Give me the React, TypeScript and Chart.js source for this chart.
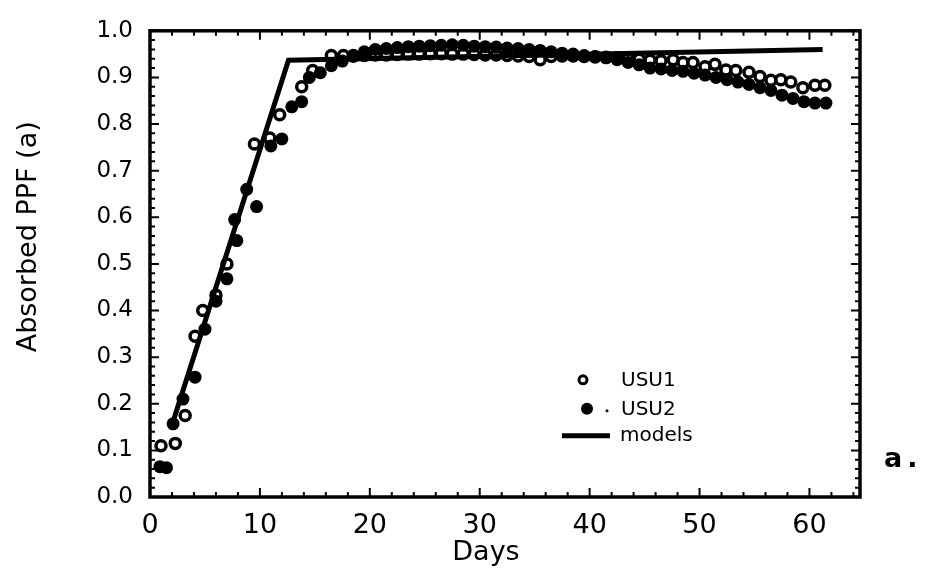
import React, { useEffect, useRef } from "react";
import { Chart, registerables } from "chart.js";

Chart.register(...registerables);

// ---- data ----
const usu1Days = [1, 2.3, 3.2, 4.1, 4.8, 6, 7, 9.5, 10.9, 11.8, 13.8, 14.8, 16.5, 17.6,
  18.5, 19.5, 20.5, 21.5, 22.5, 23.5, 24.5, 25.5, 26.5, 27.5, 28.5, 29.5, 30.5, 31.5, 32.5, 33.5, 34.5, 35.5,
  36.5, 37.5, 38.5, 39.5, 40.5, 41.5, 42.5, 43.5, 44.5, 45.5,
  46.5, 47.6, 48.5, 49.4, 50.5, 51.4, 52.4, 53.3, 54.5, 55.5, 56.5, 57.4, 58.3, 59.4, 60.5, 61.4];
const usu1Values = [0.11, 0.115, 0.175, 0.345, 0.4, 0.433, 0.5, 0.757, 0.77, 0.82, 0.88, 0.915, 0.947, 0.947,
  0.947, 0.947, 0.948, 0.948, 0.949, 0.95, 0.95, 0.951, 0.951, 0.95, 0.95, 0.949, 0.948, 0.948, 0.947, 0.946, 0.945, 0.938,
  0.945, 0.946, 0.946, 0.945, 0.944, 0.943, 0.942, 0.94, 0.939, 0.937,
  0.936, 0.938, 0.932, 0.932, 0.923, 0.928, 0.916, 0.915, 0.911, 0.902, 0.894, 0.895, 0.89, 0.878, 0.883, 0.883];

const usu2Days = [0.9, 1.5, 2.1, 3, 4.1, 5, 6, 7, 7.7, 7.9, 8.8, 9.7, 11, 12, 12.9, 13.8, 14.5, 15.5,
  16.5, 17.5, 18.5, 19.5, 20.5, 21.5, 22.5, 23.5, 24.5, 25.5, 26.5, 27.5, 28.5, 29.5, 30.5, 31.5, 32.5, 33.5, 34.5, 35.5,
  36.5, 37.5, 38.5, 39.5, 40.5, 41.5, 42.5, 43.5, 44.5, 45.5,
  46.5, 47.5, 48.5, 49.5, 50.5, 51.5, 52.5, 53.5, 54.5, 55.5, 56.5, 57.5, 58.5, 59.5, 60.5, 61.5];
const usu2Values = [0.065, 0.063, 0.157, 0.21, 0.257, 0.36, 0.42, 0.468, 0.595, 0.55, 0.66, 0.623, 0.753, 0.768, 0.837, 0.848, 0.9, 0.91,
  0.925, 0.935, 0.945, 0.955, 0.96, 0.962, 0.964, 0.966, 0.967, 0.968, 0.969, 0.97, 0.969, 0.967, 0.966, 0.965, 0.963, 0.962, 0.96, 0.958,
  0.955, 0.952, 0.95, 0.947, 0.945, 0.942, 0.938, 0.932, 0.927, 0.92,
  0.918, 0.915, 0.913, 0.909, 0.905, 0.9, 0.895, 0.89, 0.885, 0.878, 0.872, 0.862, 0.855, 0.848, 0.845, 0.845];

const modelDays = [2.1, 12.6, 61.2];
const modelValues = [0.162, 0.937, 0.96];

const xMin = 0;
const xMax = 64.6;
const xStep = 10;
const xMinorStep = 2;
const yMin = 0;
const yMax = 1;
const yStep = 0.1;
const yMinorStep = 0.02;

const seriesLabels = ["USU1", "USU2", "models"];
const xTitle = "Days";
const yTitle = "Absorbed PPF (a)";
const panelLabel = "a.";

const FONT = "'DejaVu Sans', 'Liberation Sans', sans-serif";

const toPoints = (xs: number[], ys: number[]) => xs.map((x, i) => ({ x, y: ys[i] }));

export default function App() {
  const ref = useRef<HTMLCanvasElement>(null);

  useEffect(() => {
    document.body.style.margin = "0";
    const canvas = ref.current!;

    const decorPlugin = {
      id: "decor",
      afterDatasetsDraw(chart: any) {
        const { ctx, chartArea: ca, scales } = chart;
        const xs = scales.x;
        const ys = scales.y;
        ctx.save();
        ctx.strokeStyle = "#000";
        ctx.lineCap = "butt";
        // inward ticks
        ctx.lineWidth = 2;
        const nY = Math.round((yMax - yMin) / yMinorStep);
        for (let i = 0; i <= nY; i++) {
          const v = yMin + i * yMinorStep;
          const y = ys.getPixelForValue(v);
          const major = i % Math.round(yStep / yMinorStep) === 0;
          const len = major ? 9 : 5;
          ctx.beginPath();
          ctx.moveTo(ca.left, y);
          ctx.lineTo(ca.left + len, y);
          ctx.moveTo(ca.right, y);
          ctx.lineTo(ca.right - len, y);
          ctx.stroke();
        }
        const nX = Math.floor((xMax - xMin) / xMinorStep);
        for (let i = 0; i <= nX; i++) {
          const v = xMin + i * xMinorStep;
          const x = xs.getPixelForValue(v);
          const major = v % xStep === 0;
          const len = major ? 9 : 5;
          ctx.beginPath();
          ctx.moveTo(x, ca.bottom);
          ctx.lineTo(x, ca.bottom - len);
          ctx.moveTo(x, ca.top);
          ctx.lineTo(x, ca.top + len);
          ctx.stroke();
        }
        // frame
        ctx.lineWidth = 3.5;
        ctx.strokeRect(ca.left, ca.top, ca.right - ca.left, ca.bottom - ca.top);
        ctx.restore();
      },
      afterDraw(chart: any) {
        const { ctx, chartArea: ca } = chart;
        ctx.save();
        ctx.fillStyle = "#000";
        ctx.strokeStyle = "#000";
        // y title
        ctx.save();
        ctx.translate(29, ca.top + 206);
        ctx.rotate(-Math.PI / 2);
        ctx.font = `27px ${FONT}`;
        ctx.textAlign = "center";
        ctx.textBaseline = "middle";
        ctx.fillText(yTitle, 0, 0);
        ctx.restore();
        // x title
        ctx.font = `27px ${FONT}`;
        ctx.textAlign = "center";
        ctx.textBaseline = "middle";
        ctx.fillText(xTitle, ca.left + 336, ca.bottom + 56);
        // panel label
        ctx.font = `bold 27px ${FONT}`;
        ctx.textAlign = "left";
        (ctx as any).letterSpacing = "5px";
        ctx.fillText(panelLabel, ca.right + 24, ca.bottom - 37);
        (ctx as any).letterSpacing = "0px";
        // legend
        const lx = ca.left + 433;
        const ly = ca.top + 349;
        // USU1 open circle
        ctx.lineWidth = 3;
        ctx.fillStyle = "#fff";
        ctx.beginPath();
        ctx.arc(lx, ly, 4, 0, Math.PI * 2);
        ctx.fill();
        ctx.stroke();
        // USU2 filled circle + small dot
        ctx.fillStyle = "#000";
        ctx.beginPath();
        ctx.arc(lx + 4, ly + 29, 6, 0, Math.PI * 2);
        ctx.fill();
        ctx.beginPath();
        ctx.arc(lx + 24, ly + 31, 1.5, 0, Math.PI * 2);
        ctx.fill();
        // models line
        ctx.lineWidth = 5;
        ctx.beginPath();
        ctx.moveTo(lx - 21, ly + 56);
        ctx.lineTo(lx + 27, ly + 56);
        ctx.stroke();
        ctx.font = `20px ${FONT}`;
        ctx.textAlign = "left";
        ctx.textBaseline = "middle";
        ctx.fillText(seriesLabels[0], lx + 38, ly + 1);
        ctx.fillText(seriesLabels[1], lx + 38, ly + 30);
        ctx.fillText(seriesLabels[2], lx + 37, ly + 56);
        ctx.restore();
      },
    };

    const chart = new Chart(canvas, {
      type: "scatter",
      data: {
        datasets: [
          {
            label: seriesLabels[2],
            data: toPoints(modelDays, modelValues),
            showLine: true,
            borderColor: "#000",
            borderWidth: 5,
            pointRadius: 0,
            fill: false,
            order: 0,
          } as any,
          {
            label: seriesLabels[1],
            data: toPoints(usu2Days, usu2Values),
            backgroundColor: "#000",
            borderColor: "#000",
            borderWidth: 0,
            pointRadius: 6.5,
            pointStyle: "circle",
            order: 1,
          },
          {
            label: seriesLabels[0],
            data: toPoints(usu1Days, usu1Values),
            backgroundColor: "#fff",
            borderColor: "#000",
            borderWidth: 3.5,
            pointRadius: 5,
            pointStyle: "circle",
            order: 2,
          },
        ],
      },
      options: {
        responsive: false,
        animation: false,
        devicePixelRatio: 1,
        layout: { padding: { top: 23, right: 67, left: 0, bottom: 0 } },
        plugins: { legend: { display: false }, tooltip: { enabled: false } },
        scales: {
          x: {
            type: "linear",
            min: xMin,
            max: xMax,
            grid: { display: false, drawTicks: false, tickLength: 0 },
            border: { display: false },
            ticks: {
              stepSize: xStep,
              includeBounds: false,
              color: "#000",
              font: { family: FONT, size: 27 },
              padding: 13,
              maxRotation: 0,
              callback: (v: any) => String(v),
            },
            afterFit: (s: any) => {
              s.height = 84;
            },
          },
          y: {
            type: "linear",
            min: yMin,
            max: yMax,
            grid: { display: false, drawTicks: false, tickLength: 0 },
            border: { display: false },
            ticks: {
              stepSize: yStep,
              color: "#000",
              font: { family: FONT, size: 23 },
              padding: 17,
              callback: (v: any) => Number(v).toFixed(1),
            },
            afterFit: (s: any) => {
              s.width = 150;
            },
          },
        },
      },
      plugins: [decorPlugin],
    });
    return () => chart.destroy();
  }, []);

  return (
    <div style={{ width: 927, height: 581, background: "#fff" }}>
      <canvas ref={ref} width={927} height={581} style={{ display: "block" }} />
    </div>
  );
}
